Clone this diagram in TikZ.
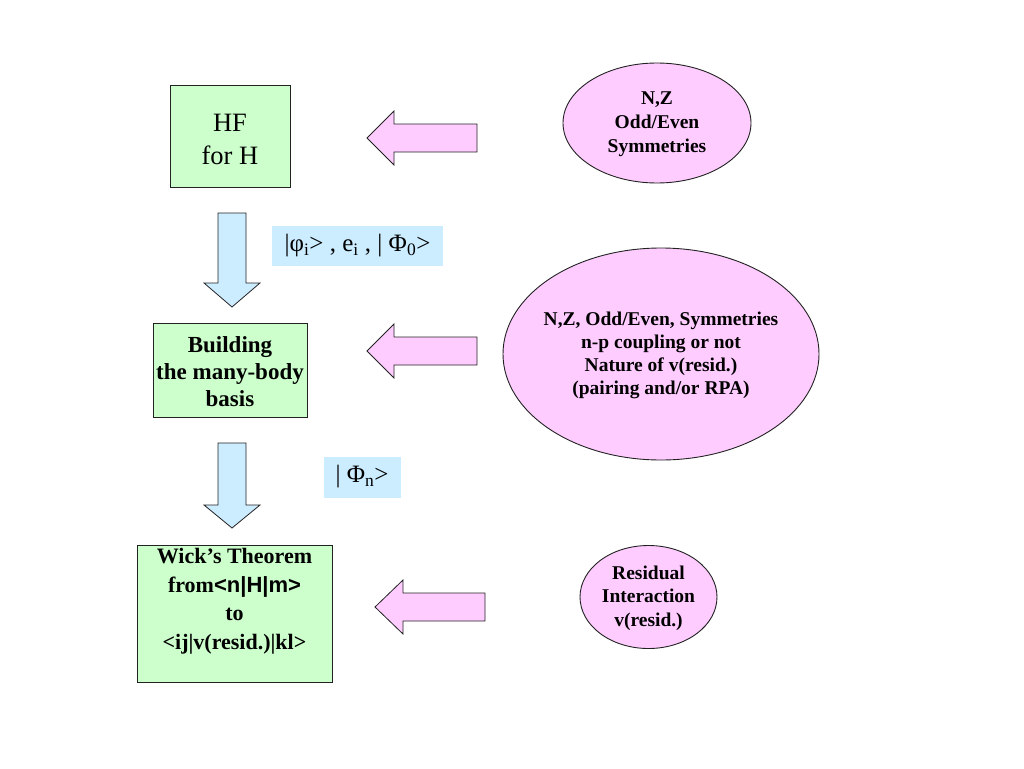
\documentclass[tikz,border=0pt]{standalone}
\usepackage{fontspec}
\setmainfont{Liberation Serif}
\newfontfamily\arialfont{Liberation Sans}
\usetikzlibrary{shapes.geometric}
\definecolor{boxgreen}{HTML}{CCFFCC}
\definecolor{boxblue}{HTML}{CCECFF}
\definecolor{boxpink}{HTML}{FFCCFF}
\definecolor{edgegray}{HTML}{222222}
\tikzset{
  greenbox/.style={draw=edgegray, line width=0.9pt, fill=boxgreen, rectangle, inner sep=0pt, align=center},
  bluelabel/.style={fill=boxblue, rectangle, inner sep=0pt, align=center},
  pinkoval/.style={draw=edgegray, line width=0.9pt, fill=boxpink, ellipse, inner sep=0pt, align=center},
  downarrow/.style={draw=edgegray, line width=0.8pt, fill=boxblue, line join=miter},
  leftarrow/.style={draw=edgegray, line width=0.8pt, fill=boxpink, line join=miter},
  txt/.style={inner sep=0pt, align=center}
}
\begin{document}
\begin{tikzpicture}[x=1pt,y=-1pt]
\useasboundingbox[fill=white] (0,0) rectangle (1024,768);

% green boxes
\node[greenbox, minimum width=120pt, minimum height=102pt] (hf) at (230,136) {};
\node[txt, font=\fontsize{26.5}{33}\selectfont] (hftext) at (230,139) {HF\\for H};

\node[greenbox, minimum width=154pt, minimum height=94pt] (build) at (230,370.5) {};
\node[txt, font=\fontsize{23}{27}\selectfont\bfseries] (buildtext) at (230,372) {Building\\the many-body\\basis};

\node[greenbox, minimum width=195pt, minimum height=137pt] (wick) at (234.5,613.5) {};
\node[txt, font=\fontsize{22}{28.5}\selectfont\bfseries] (wicktext) at (234.5,601)
  {Wick’s Theorem\\from{\arialfont <n|H|m>}\\to\\<ij|v(resid.)|kl>};

% blue labels
\node[bluelabel, minimum width=171pt, minimum height=40pt, font=\fontsize{25}{28}\selectfont] (lab1) at (357.5,246)
  {|φ\textsubscript{i}> , e\textsubscript{i} , | Φ\textsubscript{0}>};
\node[bluelabel, minimum width=77pt, minimum height=41pt, font=\fontsize{25}{28}\selectfont] (lab2) at (362,477)
  {| Φ\textsubscript{n}>};

% pink ellipses
\node[pinkoval, minimum width=188pt, minimum height=120pt] (e1) at (657,123) {};
\node[txt, font=\fontsize{19.5}{24}\selectfont\bfseries] (e1text) at (657,124) {N,Z\\Odd/Even\\Symmetries};

\node[pinkoval, minimum width=316pt, minimum height=212pt] (e2) at (661,354) {};
\node[txt, font=\fontsize{19.5}{23}\selectfont\bfseries] (e2text) at (661,355)
  {N,Z, Odd/Even, Symmetries\\n-p coupling or not\\Nature of v(resid.)\\(pairing and/or RPA)};

\node[pinkoval, minimum width=137pt, minimum height=103pt] (e3) at (648.5,597) {};
\node[txt, font=\fontsize{19.5}{23.5}\selectfont\bfseries] (e3text) at (648.5,598) {Residual\\Interaction\\v(resid.)};

% down block arrows
\draw[downarrow] (218,213) -- (246,213) -- (246,283) -- (260,283) -- (232,307) -- (204,283) -- (218,283) -- cycle;
\draw[downarrow] (218,443) -- (246,443) -- (246,505) -- (260,505) -- (232,528) -- (204,505) -- (218,505) -- cycle;

% left block arrows
\draw[leftarrow] (477,124) -- (394,124) -- (394,111) -- (367,138) -- (394,165) -- (394,152) -- (477,152) -- cycle;
\draw[leftarrow] (477,337) -- (394,337) -- (394,324) -- (367,351) -- (394,378) -- (394,365) -- (477,365) -- cycle;
\draw[leftarrow] (485,593) -- (403,593) -- (403,580) -- (375,607) -- (403,634) -- (403,621) -- (485,621) -- cycle;
\end{tikzpicture}
\end{document}
